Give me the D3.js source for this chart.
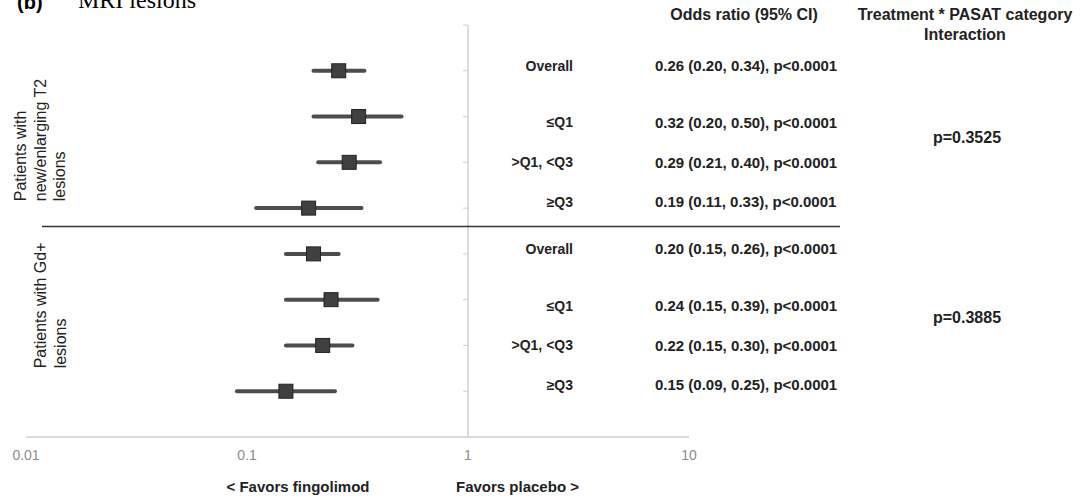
<!DOCTYPE html>
<html>
<head>
<meta charset="utf-8">
<script src="https://cdn.jsdelivr.net/npm/d3@7"></script>
<style>
  body { margin: 0; background: #fff; }
  text { font-family: "Liberation Sans", Arial, sans-serif; }
</style>
</head>
<body>
<div id="forest"></div>
<script>
//values
const subgroups = ["Overall", "\u2264Q1", ">Q1, <Q3", "\u2265Q3"];
const groupLines = [["Patients with", "new/enlarging T2", "lesions"], ["Patients with Gd+", "lesions"]];

const oddsT2 = [0.26, 0.32, 0.29, 0.19];
const lowT2 = [0.20, 0.20, 0.21, 0.11];
const highT2 = [0.34, 0.50, 0.40, 0.33];

const oddsGd = [0.20, 0.24, 0.22, 0.15];
const lowGd = [0.15, 0.15, 0.15, 0.09];
const highGd = [0.26, 0.39, 0.30, 0.25];

const pMain = ["p<0.0001", "p<0.0001", "p<0.0001", "p<0.0001", "p<0.0001", "p<0.0001", "p<0.0001", "p<0.0001"];
const pInteraction = ["p=0.3525", "p=0.3885"];
const xTicks = [0.01, 0.1, 1, 10];

//build one row per estimate
var rows = [];
subgroups.forEach(function(s, i) {
    rows.push({ group: 0, label: s, or: oddsT2[i], lo: lowT2[i], hi: highT2[i], k: i });
});
subgroups.forEach(function(s, i) {
    rows.push({ group: 1, label: s, or: oddsGd[i], lo: lowGd[i], hi: highGd[i], k: i });
});
rows.forEach(function(d, i) { d.row = i + 1; d.p = pMain[i]; });

var width = 1082, height = 500;
var fmt = d3.format(".2f");

var svg = d3.select("#forest")
    .append("svg")
    .attr("width", width)
    .attr("height", height);

var x = d3.scaleLog().domain([0.01, 10]).range([26, 689]);
var y = d3.scaleLinear().domain([0, 9]).range([25, 437]);

//text rows in the table sit a little off the marker rows
var textShift = [-5, 6, 0, -6];

//title (cut off at the top in the original)
svg.append("text").attr("x", 17).attr("y", 9)
    .style("font-size", "20px").style("font-weight", "bold").text("(b)");
svg.append("text").attr("x", 78).attr("y", 8)
    .style("font-family", "'Liberation Serif', 'Times New Roman', serif")
    .style("font-size", "24px").text("MRI lesions");

//bottom axis
svg.append("line")
    .attr("x1", x(0.01)).attr("x2", x(10))
    .attr("y1", y(9)).attr("y2", y(9))
    .style("stroke", "#d9d9d9").style("stroke-width", 2);

svg.selectAll(".xlab")
    .data(xTicks)
    .enter()
    .append("text")
    .attr("class", "xlab")
    .attr("x", function(d) { return x(d); })
    .attr("y", y(9) + 23)
    .style("text-anchor", "middle")
    .style("font-size", "14px")
    .style("fill", "#8c8c8c")
    .text(function(d) { return d; });

//vertical line at 1 with small ticks
svg.append("line")
    .attr("x1", x(1)).attr("x2", x(1))
    .attr("y1", y(0)).attr("y2", y(9))
    .style("stroke", "#d0d0d0").style("stroke-width", 1.5);

svg.selectAll(".ytick")
    .data(d3.range(0, 9))
    .enter()
    .append("line")
    .attr("x1", x(1) - 5).attr("x2", x(1))
    .attr("y1", function(d) { return y(d); })
    .attr("y2", function(d) { return y(d); })
    .style("stroke", "#d0d0d0").style("stroke-width", 1);

//separator between the two outcomes
svg.append("line")
    .attr("x1", 42).attr("x2", 840)
    .attr("y1", y(4.4)).attr("y2", y(4.4))
    .style("stroke", "#333").style("stroke-width", 1.5);

//CI whiskers
svg.selectAll(".ci")
    .data(rows)
    .enter()
    .append("line")
    .attr("x1", function(d) { return x(d.lo); })
    .attr("x2", function(d) { return x(d.hi); })
    .attr("y1", function(d) { return y(d.row); })
    .attr("y2", function(d) { return y(d.row); })
    .style("stroke", "#4d4d4d")
    .style("stroke-width", 4)
    .style("stroke-linecap", "round");

//odds ratio squares
var sq = 14;
svg.selectAll(".pt")
    .data(rows)
    .enter()
    .append("rect")
    .attr("x", function(d) { return x(d.or) - sq / 2; })
    .attr("y", function(d) { return y(d.row) - sq / 2; })
    .attr("width", sq)
    .attr("height", sq)
    .style("fill", "#404040")
    .style("stroke", "#222")
    .style("stroke-width", 1);

//table columns
svg.append("text").attr("x", 744).attr("y", 20)
    .style("text-anchor", "middle").style("font-size", "16px").style("font-weight", "bold")
    .style("fill", "#222").text("Odds ratio (95% CI)");

svg.append("text").attr("x", 965).attr("y", 20)
    .style("text-anchor", "middle").style("font-size", "16px").style("font-weight", "bold")
    .style("fill", "#222").text("Treatment * PASAT category");
svg.append("text").attr("x", 965).attr("y", 40)
    .style("text-anchor", "middle").style("font-size", "16px").style("font-weight", "bold")
    .style("fill", "#222").text("Interaction");

svg.selectAll(".sub")
    .data(rows)
    .enter()
    .append("text")
    .attr("x", 573)
    .attr("y", function(d) { return y(d.row) + textShift[d.k]; })
    .attr("dy", "0.35em")
    .style("text-anchor", "end")
    .style("font-size", "14px")
    .style("font-weight", "bold")
    .style("fill", "#222")
    .text(function(d) { return d.label; });

svg.selectAll(".val")
    .data(rows)
    .enter()
    .append("text")
    .attr("x", 655)
    .attr("y", function(d) { return y(d.row) + textShift[d.k]; })
    .attr("dy", "0.35em")
    .style("font-size", "15px")
    .style("font-weight", "bold")
    .style("fill", "#222")
    .text(function(d) { return fmt(d.or) + " (" + fmt(d.lo) + ", " + fmt(d.hi) + "), " + d.p; });

svg.selectAll(".inter")
    .data(pInteraction)
    .enter()
    .append("text")
    .attr("x", 967)
    .attr("y", function(d, i) { return y(i * 4 + 2.5) - (i ? 5 : 2); })
    .attr("dy", "0.35em")
    .style("text-anchor", "middle")
    .style("font-size", "16px")
    .style("font-weight", "bold")
    .style("fill", "#222")
    .text(function(d) { return d; });

//rotated group labels
var groupStart = [y(3.85), y(7.5)];
groupLines.forEach(function(lines, g) {
    var t = svg.append("text")
        .attr("transform", "translate(0," + groupStart[g] + ") rotate(-90)")
        .style("font-size", "16px")
        .style("fill", "#222");
    lines.forEach(function(line, j) {
        var base = g === 0 ? 26 + j * 19.5 : 46 + j * 19.5;
        t.append("tspan").attr("x", 0).attr("y", base).text(line);
    });
});

//favors labels
svg.append("text").attr("x", 298).attr("y", 492)
    .style("text-anchor", "middle").style("font-size", "15px").style("font-weight", "bold")
    .style("fill", "#222").text("< Favors fingolimod");
svg.append("text").attr("x", 456).attr("y", 492)
    .style("font-size", "15px").style("font-weight", "bold")
    .style("fill", "#222").text("Favors placebo >");
</script>
</body>
</html>
